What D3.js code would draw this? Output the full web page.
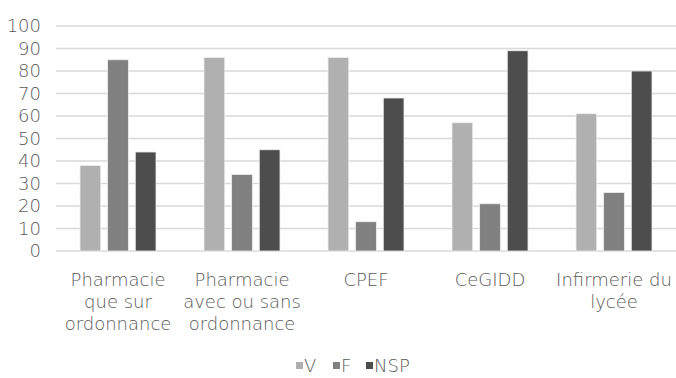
<!DOCTYPE html>
<html>
<head>
<meta charset="utf-8">
<style>
  body { margin: 0; background: #fff; }
  text { font-family: "DejaVu Sans", sans-serif; font-weight: 200; fill: #595959; }
</style>
</head>
<body>
<svg width="676" height="378"></svg>
<script src="https://d3js.org/d3.v7.min.js"></script>
<script>

var categories = [
  ["Pharmacie", "que sur", "ordonnance"],
  ["Pharmacie", "avec ou sans", "ordonnance"],
  ["CPEF"],
  ["CeGIDD"],
  ["Infirmerie du", "lycée"]
];
var series = ["V", "F", "NSP"];
var vValues = [38, 86, 86, 57, 61];
var fValues = [85, 34, 13, 21, 26];
var nspValues = [44, 45, 68, 89, 80];
var yTicks = [0, 10, 20, 30, 40, 50, 60, 70, 80, 90, 100];
var colors = ["#b0b0b0", "#808080", "#4d4d4d"];

var svg = d3.select("svg"),
    width = +svg.attr("width"),
    height = +svg.attr("height");

var margin = {left: 56, right: 0, top: 26, bottom: 127};

var rows = categories.map(function(c, i) {
  return {cat: i, values: [vValues[i], fValues[i], nspValues[i]]};
});

var x0 = d3.scaleBand()
    .domain(d3.range(categories.length))
    .range([margin.left, width - margin.right])
    .padding(0);

var x1 = d3.scaleBand()
    .domain(series)
    .range([24, x0.bandwidth() - 24])
    .paddingInner(0.25);

var y = d3.scaleLinear()
    .domain([0, 100])
    .range([height - margin.bottom, margin.top]);

var color = d3.scaleOrdinal().domain(series).range(colors);

// grid
svg.append("g")
  .selectAll("line")
  .data(yTicks)
  .enter().append("line")
    .attr("x1", margin.left)
    .attr("x2", width - margin.right)
    .attr("y1", function(d) { return y(d); })
    .attr("y2", function(d) { return y(d); })
    .attr("stroke", "#d9d9d9")
    .attr("stroke-width", 1.5);

// y labels
svg.append("g")
  .selectAll("text")
  .data(yTicks)
  .enter().append("text")
    .attr("x", 41)
    .attr("y", function(d) { return y(d); })
    .attr("dy", "0.36em")
    .attr("text-anchor", "end")
    .style("font-size", "18px")
    .style("font-stretch", "condensed")
    .text(function(d) { return d; });

// bars
var group = svg.append("g")
  .selectAll("g")
  .data(rows)
  .enter().append("g")
    .attr("transform", function(d) { return "translate(" + x0(d.cat) + ",0)"; });

group.selectAll("rect")
  .data(function(d) { return d.values.map(function(v, i) { return {key: series[i], value: v}; }); })
  .enter().append("rect")
    .attr("x", function(d) { return x1(d.key); })
    .attr("width", x1.bandwidth())
    .attr("y", function(d) { return y(d.value); })
    .attr("height", function(d) { return y(0) - y(d.value); })
    .attr("fill", function(d) { return color(d.key); })
    .attr("stroke", "#eeeeee")
    .attr("stroke-width", 0.8);

// category labels
var lab = svg.append("g")
  .selectAll("text")
  .data(categories)
  .enter().append("text")
    .attr("text-anchor", "middle")
    .style("font-size", "18px")
    .attr("transform", function(d, i) { return "translate(" + (x0(i) + x0.bandwidth() / 2) + "," + 286 + ")"; });

lab.selectAll("tspan")
  .data(function(d) { return d; })
  .enter().append("tspan")
    .attr("x", 0)
    .attr("y", function(d, i) { return i * 22; })
    .text(function(d) { return d; });

// legend
var legendX = [296, 333, 366];
var leg = svg.append("g")
  .selectAll("g")
  .data(series)
  .enter().append("g")
    .attr("transform", function(d, i) { return "translate(" + legendX[i] + ",366)"; });

leg.append("rect")
    .attr("x", 0)
    .attr("y", -4)
    .attr("width", 7)
    .attr("height", 7)
    .attr("fill", function(d) { return color(d); });

leg.append("text")
    .attr("x", 8)
    .attr("dy", "0.36em")
    .style("font-size", "18px")
    .style("font-stretch", "condensed")
    .text(function(d) { return d; });

</script>
</body>
</html>
